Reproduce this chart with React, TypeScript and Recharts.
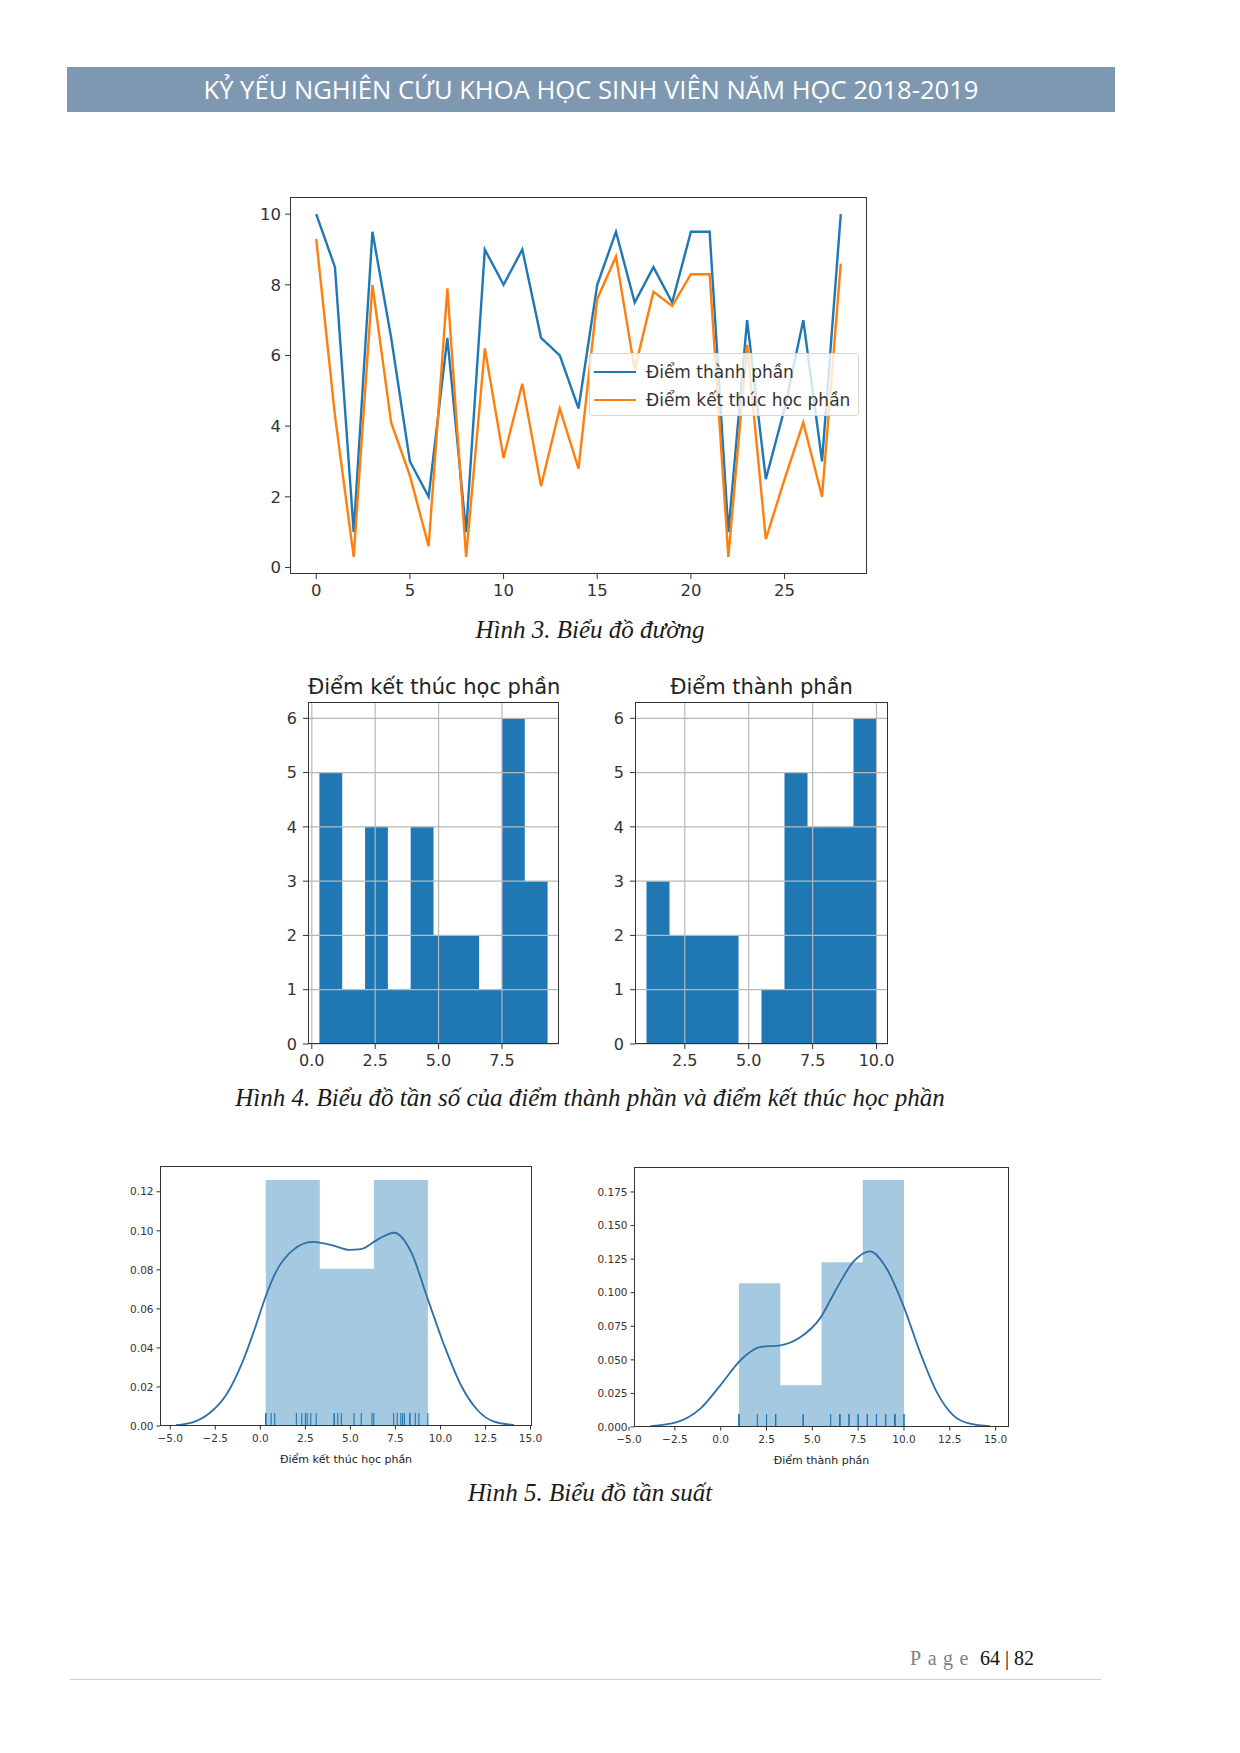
import React from 'react';
import {
  Area,
  ComposedChart,
  Line,
  LineChart,
  ReferenceLine,
  Scatter,
  XAxis,
  YAxis,
} from 'recharts';

// Hình 3: điểm của 29 sinh viên
const diemThanhPhan = [10, 8.5, 1, 9.5, 6.5, 3, 2, 6.5, 1, 9, 8, 9, 6.5, 6, 4.5, 8, 9.5, 7.5, 8.5, 7.5, 9.5, 9.5, 1, 7, 2.5, 4.5, 7, 3, 10];
const diemKetThuc = [9.3, 4.3, 0.3, 8, 4.1, 2.6, 0.6, 7.9, 0.3, 6.2, 3.1, 5.2, 2.3, 4.5, 2.8, 7.6, 8.8, 5.6, 7.8, 7.4, 8.3, 8.3, 0.3, 6.3, 0.8, 2.5, 4.1, 2, 8.6];
const lineXTicks = [0, 5, 10, 15, 20, 25];
const lineYTicks = [0, 2, 4, 6, 8, 10];

// Hình 4: histogram (10 bins)
const ketThucEdges = [0.3, 1.2, 2.1, 3.0, 3.9, 4.8, 5.7, 6.6, 7.5, 8.4, 9.3];
const ketThucCounts = [5, 1, 4, 1, 4, 2, 2, 1, 6, 3];
const thanhPhanEdges = [1, 1.9, 2.8, 3.7, 4.6, 5.5, 6.4, 7.3, 8.2, 9.1, 10];
const thanhPhanCounts = [3, 2, 2, 2, 0, 1, 5, 4, 4, 6];
const histYTicks = [0, 1, 2, 3, 4, 5, 6];

// Hình 5: distplot (density bars + kde + rug)
const ketThucDensEdges = [0.3, 3.3, 6.3, 9.3];
const ketThucDens = [0.126, 0.0805, 0.126];
const kdeKetThucX = [-4.68, -3.75, -2.83, -1.9, -0.98, -0.24, 0.32, 0.87, 1.79, 2.9, 4.01, 4.94, 5.58, 6.51, 7.43, 8.36, 9.28, 10.2, 11.13, 12.05, 12.98, 14.09];
const kdeKetThucY = [0.0005, 0.0019, 0.0065, 0.0159, 0.033, 0.0517, 0.067, 0.079, 0.09, 0.0943, 0.0925, 0.0902, 0.0906, 0.0955, 0.099, 0.0893, 0.0654, 0.0415, 0.021, 0.0082, 0.0022, 0.0005];
const thanhPhanDensEdges = [1, 3.25, 5.5, 7.75, 10];
const thanhPhanDens = [0.107, 0.031, 0.1226, 0.184];
const kdeThanhPhanX = [-3.84, -2.39, -1.11, -0.02, 1.08, 2.17, 3.26, 4.36, 5.41, 6.32, 7.23, 8.14, 9.05, 9.96, 10.87, 11.79, 12.69, 13.6, 14.7];
const kdeThanhPhanY = [0.0007, 0.0037, 0.0137, 0.031, 0.0497, 0.0596, 0.0608, 0.067, 0.0807, 0.103, 0.1229, 0.1308, 0.118, 0.0906, 0.0559, 0.026, 0.0087, 0.0025, 0.0007];
const distXTicks = [-5, -2.5, 0, 2.5, 5, 7.5, 10, 12.5, 15];
const distKetThucYTicks = [0, 0.02, 0.04, 0.06, 0.08, 0.1, 0.12];
const distThanhPhanYTicks = [0, 0.025, 0.05, 0.075, 0.1, 0.125, 0.15, 0.175];

const BLUE = '#1f77b4';
const KDE_BLUE = '#2e6fa7';
const ORANGE = '#ff7f0e';
const MPL_FONT = 'DejaVu Sans, Verdana, sans-serif';

const lineRows = diemThanhPhan.map((v, i) => ({ i, thanhPhan: v, ketThuc: diemKetThuc[i] }));

const stepRows = (edges: number[], vals: number[]) =>
  edges.map((e, i) => ({ x: e, v: vals[Math.min(i, vals.length - 1)] }));

const pairRows = (xs: number[], ys: number[]) => xs.map((x, i) => ({ x, y: ys[i] }));

const minus = (s: string) => s.replace('-', '\u2212');

function Frame({ left, top, width, height }: { left: number; top: number; width: number; height: number }) {
  return (
    <div
      style={{
        position: 'absolute',
        left,
        top,
        width,
        height,
        border: '1px solid #333',
        boxSizing: 'border-box',
        pointerEvents: 'none',
      }}
    />
  );
}

function Caption({ y, children }: { y: number; children: React.ReactNode }) {
  return (
    <div
      style={{
        position: 'absolute',
        left: 0,
        width: 1180,
        top: y - 15,
        textAlign: 'center',
        fontFamily: 'Liberation Serif, Times New Roman, serif',
        fontStyle: 'italic',
        fontSize: 25,
        lineHeight: '30px',
        color: '#1a1a1a',
      }}
    >
      {children}
    </div>
  );
}

function ScoreLines() {
  const tick = { fill: '#333', fontSize: 16.5, fontFamily: MPL_FONT };
  return (
    <div style={{ position: 'absolute', left: 230, top: 187, width: 650, height: 420 }}>
      <LineChart width={650} height={420} data={lineRows} margin={{ top: 10, right: 13, bottom: 3, left: 10 }}>
        <XAxis
          dataKey="i"
          type="number"
          domain={[-1.4, 29.4]}
          allowDataOverflow
          ticks={lineXTicks}
          tick={tick}
          tickSize={5}
          tickMargin={5}
          axisLine={false}
          tickLine={{ stroke: '#333' }}
          height={30}
        />
        <YAxis
          type="number"
          domain={[-0.185, 10.485]}
          allowDataOverflow
          ticks={lineYTicks}
          tick={tick}
          tickSize={5}
          tickMargin={4}
          axisLine={false}
          tickLine={{ stroke: '#333' }}
          width={50}
        />
        <Line dataKey="thanhPhan" stroke={BLUE} strokeWidth={2.4} dot={false} isAnimationActive={false} type="linear" />
        <Line dataKey="ketThuc" stroke={ORANGE} strokeWidth={2.4} dot={false} isAnimationActive={false} type="linear" />
      </LineChart>
      <Frame left={60} top={10} width={577} height={377} />
      <div
        style={{
          position: 'absolute',
          left: 359,
          top: 166,
          width: 270,
          height: 63,
          background: 'rgba(255,255,255,0.8)',
          border: '1px solid #d6d6d6',
          borderRadius: 3,
          boxSizing: 'border-box',
          fontFamily: MPL_FONT,
          fontSize: 17,
          color: '#333',
        }}
      >
        {[
          { name: 'Điểm thành phần', color: BLUE, y: 8 },
          { name: 'Điểm kết thúc học phần', color: ORANGE, y: 36 },
        ].map((e) => (
          <div key={e.name} style={{ position: 'absolute', left: 4, top: e.y, height: 20, display: 'flex', alignItems: 'center' }}>
            <span style={{ display: 'inline-block', width: 42, height: 2.4, background: e.color, marginRight: 10 }} />
            <span style={{ whiteSpace: 'nowrap' }}>{e.name}</span>
          </div>
        ))}
      </div>
    </div>
  );
}

function Histogram({
  title,
  edges,
  counts,
  domain,
  xTicks,
  left,
  width,
}: {
  title: string;
  edges: number[];
  counts: number[];
  domain: [number, number];
  xTicks: number[];
  left: number;
  width: number;
}) {
  const tick = { fill: '#333', fontSize: 16, fontFamily: MPL_FONT };
  const plotW = width - 59;
  return (
    <div style={{ position: 'absolute', left, top: 692, width, height: 384 }}>
      <div
        style={{
          position: 'absolute',
          left: 50,
          width: plotW,
          top: -17,
          textAlign: 'center',
          fontFamily: MPL_FONT,
          fontSize: 21,
          lineHeight: '24px',
          color: '#222',
          whiteSpace: 'nowrap',
        }}
      >
        {title}
      </div>
      <ComposedChart width={width} height={384} data={stepRows(edges, counts)} margin={{ top: 10, right: 9, bottom: 2, left: 10 }}>
        <XAxis
          dataKey="x"
          type="number"
          domain={domain}
          allowDataOverflow
          ticks={xTicks}
          tickFormatter={(v: number) => v.toFixed(1)}
          tick={tick}
          tickSize={5}
          tickMargin={6}
          axisLine={false}
          tickLine={{ stroke: '#333' }}
          height={30}
        />
        <YAxis
          type="number"
          domain={[0, 6.3]}
          allowDataOverflow
          ticks={histYTicks}
          tick={tick}
          tickSize={5}
          tickMargin={6}
          axisLine={false}
          tickLine={{ stroke: '#333' }}
          width={40}
        />
        <Area dataKey="v" type="stepAfter" fill={BLUE} fillOpacity={1} stroke="none" isAnimationActive={false} />
        {histYTicks.map((y) => (
          <ReferenceLine key={'y' + y} y={y} stroke="#b8b8b8" strokeWidth={1.2} />
        ))}
        {xTicks.map((x) => (
          <ReferenceLine key={'x' + x} x={x} stroke="#b8b8b8" strokeWidth={1.2} />
        ))}
      </ComposedChart>
      <Frame left={50} top={10} width={plotW} height={342} />
    </div>
  );
}

function RugTick(props: any) {
  const { cx, cy } = props;
  return <line x1={cx} x2={cx} y1={cy} y2={cy - 13} stroke={BLUE} strokeWidth={1.1} />;
}

function DistPlot({
  label,
  edges,
  dens,
  kdeX,
  kdeY,
  rug,
  xDomain,
  yMax,
  yTicks,
  yDigits,
  left,
  top,
  yAxisW,
  plotW,
}: {
  label: string;
  edges: number[];
  dens: number[];
  kdeX: number[];
  kdeY: number[];
  rug: number[];
  xDomain: [number, number];
  yMax: number;
  yTicks: number[];
  yDigits: number;
  left: number;
  top: number;
  yAxisW: number;
  plotW: number;
}) {
  const tick = { fill: '#333', fontSize: 10.5, fontFamily: MPL_FONT };
  const width = 10 + yAxisW + plotW + 10;
  return (
    <div style={{ position: 'absolute', left, top, width, height: 315 }}>
      <ComposedChart width={width} height={315} margin={{ top: 10, right: 10, bottom: 5, left: 10 }}>
        <XAxis
          dataKey="x"
          type="number"
          domain={xDomain}
          allowDataOverflow
          ticks={distXTicks}
          tickFormatter={(v: number) => minus(v.toFixed(1))}
          tick={tick}
          tickSize={3.5}
          tickMargin={5}
          axisLine={false}
          tickLine={{ stroke: '#333' }}
          height={40}
          label={{ value: label, position: 'insideBottom', offset: 3, fill: '#222', fontSize: 11, fontFamily: MPL_FONT }}
        />
        <YAxis
          type="number"
          domain={[0, yMax]}
          allowDataOverflow
          ticks={yTicks}
          tickFormatter={(v: number) => v.toFixed(yDigits)}
          tick={tick}
          tickSize={3.5}
          tickMargin={3}
          axisLine={false}
          tickLine={{ stroke: '#333' }}
          width={yAxisW}
        />
        <Area
          data={stepRows(edges, dens)}
          dataKey="v"
          type="stepAfter"
          fill={BLUE}
          fillOpacity={0.4}
          stroke="none"
          isAnimationActive={false}
        />
        <Line
          data={pairRows(kdeX, kdeY)}
          dataKey="y"
          type="monotone"
          stroke={KDE_BLUE}
          strokeWidth={1.8}
          dot={false}
          isAnimationActive={false}
        />
        <Scatter
          data={rug.map((x) => ({ x, y: 0 }))}
          dataKey="y"
          shape={RugTick}
          isAnimationActive={false}
        />
      </ComposedChart>
      <Frame left={10 + yAxisW} top={10} width={plotW} height={260} />
    </div>
  );
}

export default function App() {
  return (
    <div style={{ position: 'absolute', left: 0, top: 0, width: 1240, height: 1753, background: '#fff', overflow: 'hidden' }}>
      <div
        style={{
          position: 'absolute',
          left: 67,
          top: 67,
          width: 1048,
          height: 45,
          background: '#7f98b1',
          color: '#fff',
          textAlign: 'center',
          fontFamily: 'Liberation Sans Narrow, Open Sans, sans-serif',
          fontSize: 25.6,
          lineHeight: '45px',
        }}
      >
        KỶ YẾU NGHIÊN CỨU KHOA HỌC SINH VIÊN NĂM HỌC 2018-2019
      </div>

      <ScoreLines />
      <Caption y={630}>Hình 3. Biểu đồ đường</Caption>

      <Histogram
        title="Điểm kết thúc học phần"
        edges={ketThucEdges}
        counts={ketThucCounts}
        domain={[-0.15, 9.75]}
        xTicks={[0, 2.5, 5, 7.5]}
        left={258}
        width={310}
      />
      <Histogram
        title="Điểm thành phần"
        edges={thanhPhanEdges}
        counts={thanhPhanCounts}
        domain={[0.55, 10.45]}
        xTicks={[2.5, 5, 7.5, 10]}
        left={585}
        width={312}
      />
      <Caption y={1098}>Hình 4. Biểu đồ tần số của điểm thành phần và điểm kết thúc học phần</Caption>

      <DistPlot
        label="Điểm kết thúc học phần"
        edges={ketThucDensEdges}
        dens={ketThucDens}
        kdeX={kdeKetThucX}
        kdeY={kdeKetThucY}
        rug={diemKetThuc}
        xDomain={[-5.57, 15.08]}
        yMax={0.1332}
        yTicks={distKetThucYTicks}
        yDigits={2}
        left={100}
        top={1156}
        yAxisW={50}
        plotW={372}
      />
      <DistPlot
        label="Điểm thành phần"
        edges={thanhPhanDensEdges}
        dens={thanhPhanDens}
        kdeX={kdeThanhPhanX}
        kdeY={kdeThanhPhanY}
        rug={diemThanhPhan}
        xDomain={[-4.73, 15.73]}
        yMax={0.1936}
        yTicks={distThanhPhanYTicks}
        yDigits={3}
        left={564}
        top={1157}
        yAxisW={60}
        plotW={375}
      />
      <Caption y={1493}>Hình 5. Biểu đồ tần suất</Caption>

      <div
        style={{
          position: 'absolute',
          right: 1240 - 1034,
          top: 1646,
          fontFamily: 'Liberation Serif, Times New Roman, serif',
          fontSize: 20,
          lineHeight: '24px',
          whiteSpace: 'nowrap',
        }}
      >
        <span style={{ color: '#7f7f7f', letterSpacing: 6.5 }}>Page</span>
        <span style={{ color: '#111' }}> 64 | 82</span>
      </div>
      <div style={{ position: 'absolute', left: 70, top: 1679, width: 1031, height: 1, background: '#cfcfcf' }} />
    </div>
  );
}
